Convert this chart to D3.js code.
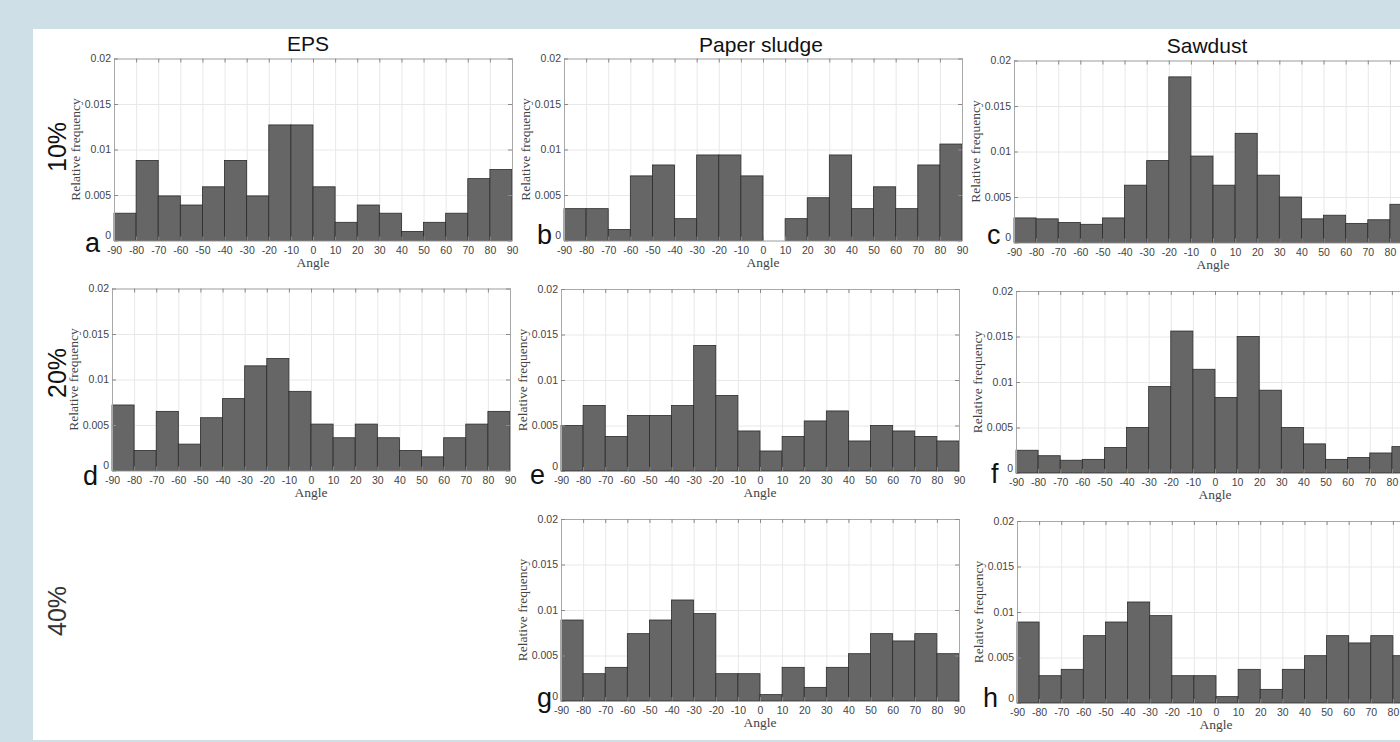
<!DOCTYPE html>
<html>
<head>
<meta charset="utf-8">
<script src="https://cdn.jsdelivr.net/npm/d3@7"></script>
<style>
  html, body { margin: 0; padding: 0; background: #cfdfe8; overflow: hidden; }
  svg { display: block; }
  .tick text { font-family: "Liberation Sans", Arial, sans-serif; font-size: 10.5px; fill: #444; }
</style>
</head>
<body>
<svg id="fig" width="1400" height="742"></svg>
<script>
'use strict';

// bin start angles, 10 degree wide bins from -90 to 90
var binStarts = [-90, -80, -70, -60, -50, -40, -30, -20, -10, 0, 10, 20, 30, 40, 50, 60, 70, 80];
var xTickValues = [-90, -80, -70, -60, -50, -40, -30, -20, -10, 0, 10, 20, 30, 40, 50, 60, 70, 80, 90];
var xTickLabels = ['-90', '-80', '-70', '-60', '-50', '-40', '-30', '-20', '-10', '0', '10', '20', '30', '40', '50', '60', '70', '80', '90'];
var yTickValues = [0, 0.005, 0.01, 0.015, 0.02];
var yTickLabels = ['0', '0.005', '0.01', '0.015', '0.02'];

var columnTitles = ['EPS', 'Paper sludge', 'Sawdust'];
var rowLabels = ['10%', '20%', '40%'];

// relative frequencies
var eps10 = [0.0030, 0.0088, 0.0049, 0.0039, 0.0059, 0.0088, 0.0049, 0.0127, 0.0127, 0.0059, 0.0020, 0.0039, 0.0030, 0.0010, 0.0020, 0.0030, 0.0068, 0.0078];
var paper10 = [0.0035, 0.0035, 0.0012, 0.0071, 0.0083, 0.0024, 0.0094, 0.0094, 0.0071, 0.0000, 0.0024, 0.0047, 0.0094, 0.0035, 0.0059, 0.0035, 0.0083, 0.0106];
var saw10 = [0.0027, 0.0026, 0.0022, 0.0020, 0.0027, 0.0063, 0.0090, 0.0182, 0.0095, 0.0063, 0.0120, 0.0074, 0.0050, 0.0026, 0.0030, 0.0021, 0.0025, 0.0042];
var eps20 = [0.0072, 0.0022, 0.0065, 0.0029, 0.0058, 0.0079, 0.0115, 0.0123, 0.0087, 0.0051, 0.0036, 0.0051, 0.0036, 0.0022, 0.0015, 0.0036, 0.0051, 0.0065];
var paper20 = [0.0050, 0.0072, 0.0038, 0.0061, 0.0061, 0.0072, 0.0138, 0.0083, 0.0044, 0.0022, 0.0038, 0.0055, 0.0066, 0.0033, 0.0050, 0.0044, 0.0038, 0.0033];
var saw20 = [0.0025, 0.0019, 0.0014, 0.0015, 0.0028, 0.0050, 0.0095, 0.0156, 0.0114, 0.0083, 0.0150, 0.0091, 0.0050, 0.0032, 0.0015, 0.0017, 0.0022, 0.0029];
var paper40 = [0.0089, 0.0030, 0.0037, 0.0074, 0.0089, 0.0111, 0.0096, 0.0030, 0.0030, 0.0007, 0.0037, 0.0015, 0.0037, 0.0052, 0.0074, 0.0066, 0.0074, 0.0052];
var saw40 = [0.0089, 0.0030, 0.0037, 0.0074, 0.0089, 0.0111, 0.0096, 0.0030, 0.0030, 0.0007, 0.0037, 0.0015, 0.0037, 0.0052, 0.0074, 0.0066, 0.0074, 0.0052];

var panelW = 398, panelH = 182;

// layout: plot origin (left, top) and where the panel letter sits
var panels = [
    {letter: 'a', values: eps10,   left: 114,  top: 58.5,  ldx: -29, ldy: 11},
    {letter: 'b', values: paper10, left: 564,  top: 58.5,  ldx: -27, ldy: 3},
    {letter: 'c', values: saw10,   left: 1014, top: 60.5,  ldx: -27, ldy: 1},
    {letter: 'd', values: eps20,   left: 112,  top: 288.5, ldx: -29, ldy: 14},
    {letter: 'e', values: paper20, left: 561,  top: 289,   ldx: -31, ldy: 13},
    {letter: 'f', values: saw20,   left: 1016, top: 291,   ldx: -25, ldy: 10},
    {letter: 'g', values: paper40, left: 561,  top: 519,   ldx: -24, ldy: 6},
    {letter: 'h', values: saw40,   left: 1017, top: 521,   ldx: -34, ldy: 4}
];

var svg = d3.select('#fig');

// white figure background
svg.append('rect')
    .attr('x', 33).attr('y', 29)
    .attr('width', 1367).attr('height', 711)
    .attr('fill', '#ffffff');

var x = d3.scaleLinear().domain([-90, 90]).range([0, panelW]);
var y = d3.scaleLinear().domain([0, 0.02]).range([panelH, 0]);

function drawPanel(p) {
    var g = svg.append('g').attr('transform', 'translate(' + p.left + ',' + p.top + ')');

    // grid
    g.append('g')
        .attr('class', 'grid')
        .attr('transform', 'translate(0,' + panelH + ')')
        .call(d3.axisBottom(x).tickValues(xTickValues).tickSize(-panelH).tickFormat(''))
        .call(function (s) { s.select('.domain').remove(); })
        .selectAll('line').attr('stroke', '#e8e8e8');
    g.append('g')
        .attr('class', 'grid')
        .call(d3.axisLeft(y).tickValues(yTickValues).tickSize(-panelW).tickFormat(''))
        .call(function (s) { s.select('.domain').remove(); })
        .selectAll('line').attr('stroke', '#e8e8e8');

    // bars
    g.append('g').attr('class', 'bar')
        .selectAll('rect')
        .data(p.values)
        .enter().append('rect')
        .attr('x', function (d, i) { return x(binStarts[i]); })
        .attr('y', function (d) { return y(d); })
        .attr('width', function (d, i) { return x(binStarts[i] + 10) - x(binStarts[i]); })
        .attr('height', function (d) { return panelH - y(d); })
        .attr('fill', '#666666')
        .attr('stroke', '#2b2b2b')
        .attr('stroke-width', 0.8);

    // box with inward ticks
    var bottom = g.append('g')
        .attr('transform', 'translate(0,' + panelH + ')')
        .call(d3.axisBottom(x).tickValues(xTickValues).tickSizeInner(-4).tickSizeOuter(0).tickPadding(6)
            .tickFormat(function (d, i) { return xTickLabels[i]; }));
    bottom.selectAll('text').attr('dy', '0.71em');
    var top = g.append('g')
        .call(d3.axisTop(x).tickValues(xTickValues).tickSizeInner(-4).tickSizeOuter(0).tickFormat(''));
    var left = g.append('g')
        .call(d3.axisLeft(y).tickValues(yTickValues).tickSizeInner(-4).tickSizeOuter(0).tickPadding(3)
            .tickFormat(function (d, i) { return yTickLabels[i]; }));
    var right = g.append('g')
        .attr('transform', 'translate(' + panelW + ',0)')
        .call(d3.axisRight(y).tickValues(yTickValues).tickSizeInner(-4).tickSizeOuter(0).tickFormat(''));
    [bottom, top, left, right].forEach(function (a) {
        a.select('.domain').attr('stroke', '#a8a8a8');
        a.selectAll('.tick line').attr('stroke', '#8a8a8a');
    });
    // the 0 label sits a little higher, as in the original
    left.selectAll('.tick text').filter(function (d) { return d === 0; }).attr('dy', '-0.15em');

    // axis titles
    g.append('text')
        .attr('x', panelW / 2).attr('y', panelH + 26)
        .attr('text-anchor', 'middle')
        .attr('font-family', '"Liberation Serif", "Times New Roman", serif')
        .attr('font-size', 13.5).attr('fill', '#444')
        .text('Angle');
    g.append('text')
        .attr('transform', 'translate(-34,' + (panelH / 2) + ') rotate(-90)')
        .attr('text-anchor', 'middle')
        .attr('font-family', '"Liberation Serif", "Times New Roman", serif')
        .attr('font-size', 13.5).attr('fill', '#444')
        .text('Relative frequency');

    // panel letter
    g.append('text')
        .attr('x', p.ldx).attr('y', panelH + p.ldy)
        .attr('font-family', '"Liberation Sans", Arial, sans-serif')
        .attr('font-size', 27).attr('fill', '#111')
        .text(p.letter);
}

panels.forEach(drawPanel);

// column titles
var titleX = [308, 761, 1207];
var titleY = [51, 52, 53];
columnTitles.forEach(function (t, i) {
    svg.append('text')
        .attr('x', titleX[i]).attr('y', titleY[i])
        .attr('text-anchor', 'middle')
        .attr('font-family', '"Liberation Sans", Arial, sans-serif')
        .attr('font-size', 21).attr('fill', '#111')
        .text(t);
});

// row labels
var rowY = [147, 373, 611];
var rowFill = ['#111', '#111', '#333'];
rowLabels.forEach(function (t, i) {
    svg.append('text')
        .attr('transform', 'translate(66,' + rowY[i] + ') rotate(-90)')
        .attr('text-anchor', 'middle')
        .attr('font-family', '"Liberation Sans", Arial, sans-serif')
        .attr('font-size', 25).attr('fill', rowFill[i])
        .text(t);
});
</script>
</body>
</html>
